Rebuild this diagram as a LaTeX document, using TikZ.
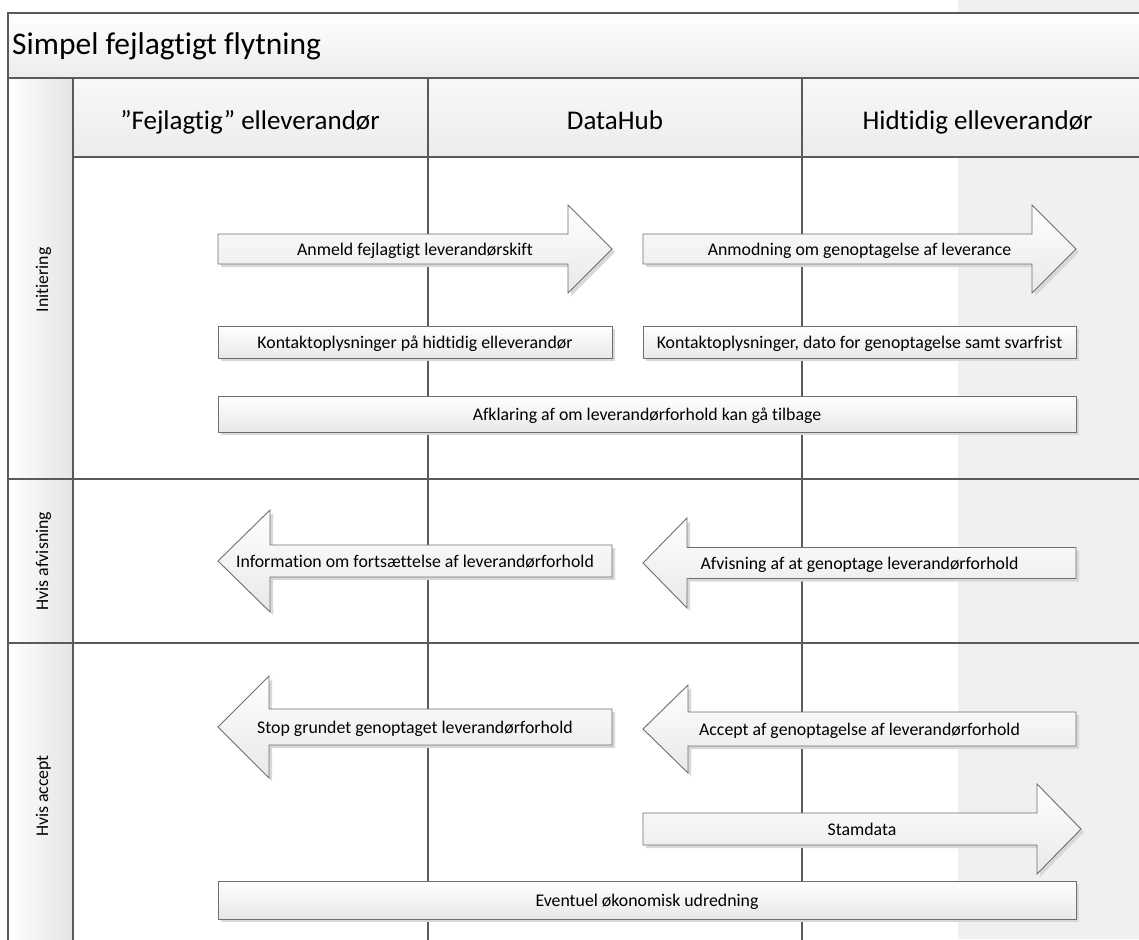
\documentclass[tikz,border=0pt]{standalone}
\usepackage{fontspec}
\setmainfont{Carlito}[Ligatures={NoCommon}]
\definecolor{linegray}{HTML}{5A5A5A}
\definecolor{boxgray}{HTML}{6E6E6E}
\definecolor{bgcol}{HTML}{F0F0F0}
\definecolor{shadowcol}{HTML}{D8D8D8}
\definecolor{boxbot}{HTML}{E8E8E8}
\definecolor{headtop}{HTML}{F8F8F8}
\definecolor{headbot}{HTML}{ECECEC}
\definecolor{lanebot}{HTML}{E4E4E4}
\newcommand\rpath[6]{(#1,#4-#5) -- (#2,#4-#5) -- (#2,#4-#6) -- (#3,#4) -- (#2,#4+#6) -- (#2,#4+#5) -- (#1,#4+#5) -- cycle}
% #1 name, #2 tail x, #3 head base x, #4 tip x, #5 center y, #6 body half, #7 head half, #8 text
\newcommand\FlowArrow[8]{%
  \fill[shadowcol,shift={(3,3)}] \rpath{#2}{#3}{#4}{#5}{#6}{#7};
  \path[boxshape] \rpath{#2}{#3}{#4}{#5}{#6}{#7};
  \node[boxtext] (#1) at ({(#2+#4)/2},#5) {#8};}
% #1 name, #2 x1, #3 x2, #4 y1, #5 y2, #6 text
\newcommand\FlowRect[6]{%
  \fill[shadowcol] (#2+3,#4+3) rectangle (#3+3,#5+3);
  \node[boxshape,boxtext,minimum width={#3-#2},minimum height={#5-#4}] (#1) at ({(#2+#3)/2},{(#4+#5)/2}) {#6};}
\begin{document}
\begin{tikzpicture}[x=1pt,y=-1pt,
  frameline/.style={draw=linegray,line width=1.3pt},
  boxshape/.style={draw=boxgray,line width=0.9pt,top color=white,bottom color=boxbot},
  boxtext/.style={font=\fontsize{17.8}{20}\selectfont,inner sep=0pt,text height=12pt,text depth=0pt},
  headtext/.style={font=\fontsize{27}{30}\selectfont,inner sep=0pt,anchor=base},
  lanetext/.style={font=\fontsize{17.8}{20}\selectfont,inner sep=0pt,text height=12pt,text depth=0pt,rotate=90}
]
\useasboundingbox (0,0) rectangle (1139,939);
\clip (0,0) rectangle (1139,939);
% background column
\fill[bgcol] (958,0) rectangle (1139,939);
% title band
\path[top color=white,bottom color=headbot] (8,13) rectangle (1150,78);
% header band
\path[top color=headtop,bottom color=headbot] (73,78) rectangle (1150,157);
% lane label column
\path[left color=white,right color=lanebot] (8,78) rectangle (73,950);
% frame lines
\draw[frameline] (1150,13) -- (8,13) -- (8,950);
\draw[frameline] (8,78) -- (1150,78);
\draw[frameline] (73,157) -- (1150,157);
\draw[frameline] (73,78) -- (73,950);
\draw[frameline] (428,78) -- (428,950);
\draw[frameline] (802,78) -- (802,950);
\draw[frameline] (8,479) -- (1150,479);
\draw[frameline] (8,643) -- (1150,643);
% texts of frame
\node[font=\fontsize{31.5}{34}\selectfont,inner sep=0pt,anchor=base west] (title) at (12,55) {Simpel fejlagtigt flytning};
\node[headtext] (h1) at (250,129) {”Fejlagtig” elleverandør};
\node[headtext] (h2) at (615,129) {DataHub};
\node[headtext] (h3) at (977.5,129) {Hidtidig elleverandør};
\node[lanetext] (l1) at (42,280) {Initiering};
\node[lanetext] (l2) at (42,561) {Hvis afvisning};
\node[lanetext] (l3) at (42,796) {Hvis accept};
% Initiering
\FlowArrow{a1}{218}{568}{612}{249}{15}{44}{Anmeld fejlagtigt leverandørskift}
\FlowArrow{a2}{643}{1032}{1076}{249}{15}{44}{Anmodning om genoptagelse af leverance}
\FlowRect{k1}{218}{612}{326}{358}{Kontaktoplysninger på hidtidig elleverandør}
\FlowRect{k2}{643}{1076}{326}{358}{Kontaktoplysninger, dato for genoptagelse samt svarfrist}
\FlowRect{af}{218}{1076}{396}{432}{Afklaring af om leverandørforhold kan gå tilbage}
% Hvis afvisning
\FlowArrow{a3}{612}{270}{218}{561}{16}{51}{Information om fortsættelse af leverandørforhold}
\FlowArrow{a4}{1076}{687}{643}{563}{15.5}{45}{Afvisning af at genoptage leverandørforhold}
% Hvis accept
\FlowArrow{a5}{612}{269}{218}{727}{18}{51}{Stop grundet genoptaget leverandørforhold}
\FlowArrow{a6}{1076}{688}{643}{729}{17}{44}{Accept af genoptagelse af leverandørforhold}
\FlowArrow{a7}{643}{1037}{1081}{829}{16}{45}{Stamdata}
\FlowRect{ev}{218}{1076}{881}{919}{Eventuel økonomisk udredning}
\end{tikzpicture}
\end{document}
